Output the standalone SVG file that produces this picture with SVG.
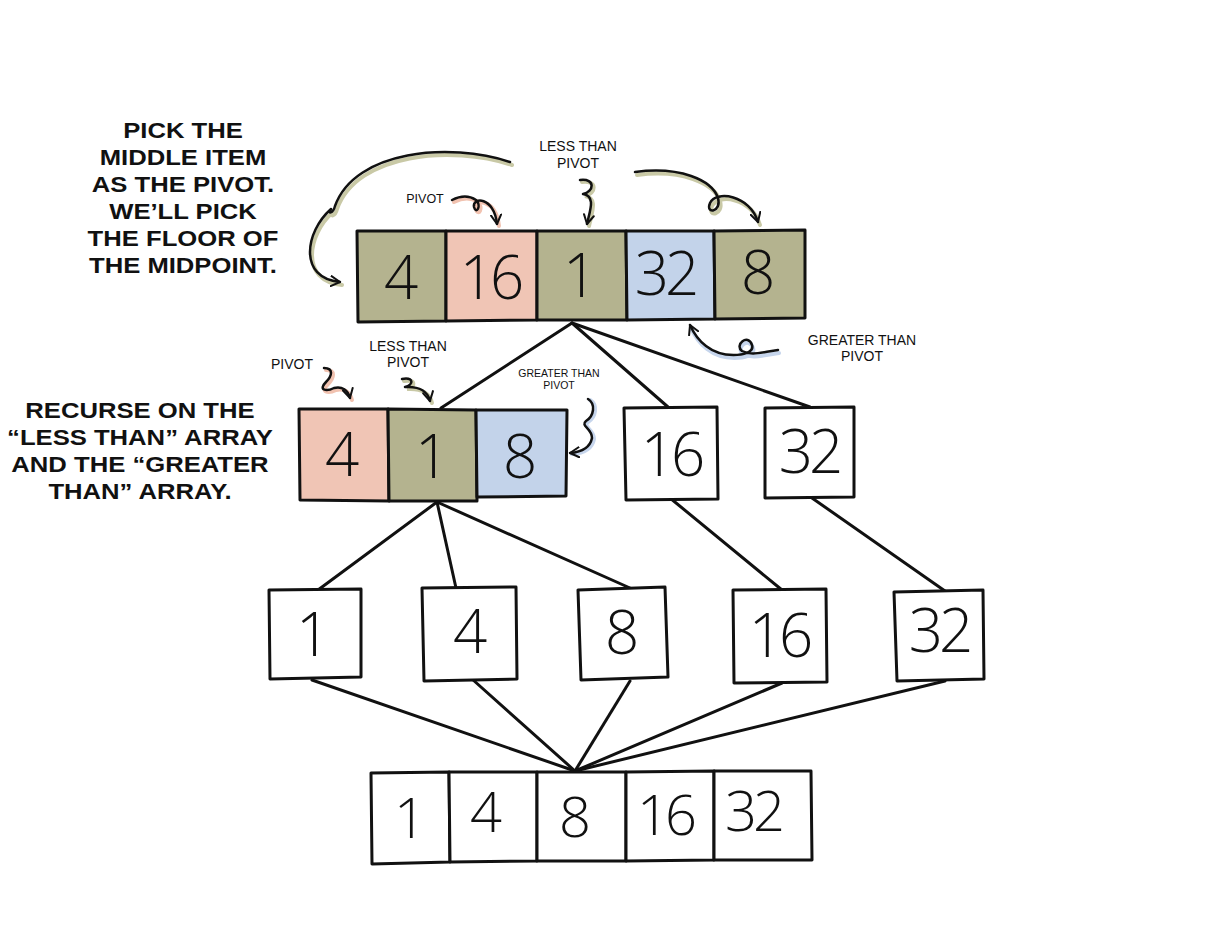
<svg xmlns="http://www.w3.org/2000/svg" width="1232" height="934" viewBox="0 0 1232 934">
<style>
.box{stroke:#111;stroke-width:3;stroke-linejoin:round}
.ol{fill:#b4b38f}.pk{fill:#f0c5b5}.bl{fill:#c3d3ea}.wh{fill:#fff}
.dg{font-family:"Open Sans","Liberation Sans",sans-serif;font-weight:300;font-size:60px;fill:#111;text-anchor:middle}
.two{letter-spacing:-4px}
.big{font-family:"Liberation Sans",sans-serif;font-weight:bold;font-size:22.5px;fill:#111;text-anchor:middle}
.sm{font-family:"Liberation Sans",sans-serif;font-size:14px;fill:#111;text-anchor:middle}
.xs{font-family:"Liberation Sans",sans-serif;font-size:10.5px;fill:#111;text-anchor:middle}
.ln{fill:none;stroke:#111;stroke-width:3;stroke-linecap:round}
.ar{fill:none;stroke:#111;stroke-width:2.5;stroke-linecap:round;stroke-linejoin:round}
.hg{fill:none;stroke:#c9c9a6;stroke-width:4;stroke-linecap:round}
.hp{fill:none;stroke:#f1c2b0;stroke-width:4;stroke-linecap:round}
.hb{fill:none;stroke:#c6d5ec;stroke-width:4;stroke-linecap:round}
</style>
<defs>
<marker id="ah" viewBox="0 0 12 12" refX="10" refY="6" markerWidth="12" markerHeight="12" markerUnits="userSpaceOnUse" orient="auto">
<path d="M1,1 L10,6 L1,11" fill="none" stroke="#111" stroke-width="2" stroke-linecap="round" stroke-linejoin="round"/>
</marker>
</defs>
<rect width="1232" height="934" fill="#fff"/>

<!-- texts -->
<g id="note-pick" transform="translate(183,0) scale(1.14,1) translate(-183,0)">
<text class="big" x="183" y="138">PICK THE</text>
<text class="big" x="183" y="165">MIDDLE ITEM</text>
<text class="big" x="183" y="192">AS THE PIVOT.</text>
<text class="big" x="183" y="219">WE’LL PICK</text>
<text class="big" x="183" y="246">THE FLOOR OF</text>
<text class="big" x="183" y="273">THE MIDPOINT.</text>
</g>
<g id="note-recurse" transform="translate(140,0) scale(1.14,1) translate(-140,0)">
<text class="big" x="140" y="418">RECURSE ON THE</text>
<text class="big" x="140" y="445">“LESS THAN” ARRAY</text>
<text class="big" x="140" y="472">AND THE “GREATER</text>
<text class="big" x="140" y="499">THAN” ARRAY.</text>
</g>

<!-- connectors -->
<g id="connectors">
<path class="ln" d="M572 323 L441 408"/>
<path class="ln" d="M572 323 L668 407"/>
<path class="ln" d="M572 323 L810 407"/>
<path class="ln" d="M437 502 L318 590"/>
<path class="ln" d="M437 502 L456 588"/>
<path class="ln" d="M437 502 L630 588"/>
<path class="ln" d="M670 498 L782 590"/>
<path class="ln" d="M812 498 L945 591"/>
<path class="ln" d="M312 680 L575 771"/>
<path class="ln" d="M472 679 L575 771"/>
<path class="ln" d="M630 681 L575 771"/>
<path class="ln" d="M782 683 L575 771"/>
<path class="ln" d="M945 681 L575 771"/>
</g>

<!-- annotation arrows -->
<g id="annotations">
<path class="hg" transform="translate(2,3)" d="M510 162 C 450 142, 355 150, 335 206 C 333 214, 327 214, 331 209 C 305 232, 298 278, 340 282"/>
<path class="ar" marker-end="url(#ah)" d="M510 162 C 450 142, 355 150, 335 206 C 333 214, 327 214, 331 209 C 305 232, 298 278, 340 282"/>
<path class="hg" transform="translate(2,3)" d="M635 172 C 680 166, 712 180, 718 198 C 722 212, 705 215, 710 203 C 716 190, 750 195, 758 222"/>
<path class="ar" marker-end="url(#ah)" d="M635 172 C 680 166, 712 180, 718 198 C 722 212, 705 215, 710 203 C 716 190, 750 195, 758 222"/>

<text class="sm" x="425" y="203" style="font-size:12.5px">PIVOT</text>
<path class="hp" transform="translate(2,2)" d="M452 200 C 462 195, 470 196, 476 200 C 482 206, 476 215, 474 207 C 472 197, 494 196, 497 224"/>
<path class="ar" marker-end="url(#ah)" d="M452 200 C 462 195, 470 196, 476 200 C 482 206, 476 215, 474 207 C 472 197, 494 196, 497 224"/>

<text class="sm" x="578" y="151">LESS THAN</text>
<text class="sm" x="578" y="168">PIVOT</text>
<path class="hg" transform="translate(2,2)" d="M580 180 C 596 178, 594 192, 583 194 C 596 196, 590 210, 587 224"/>
<path class="ar" marker-end="url(#ah)" d="M580 180 C 596 178, 594 192, 583 194 C 596 196, 590 210, 587 224"/>

<text class="sm" x="862" y="345">GREATER THAN</text>
<text class="sm" x="862" y="361">PIVOT</text>
<path class="hb" transform="translate(1,3)" d="M778 350 C 762 352, 752 356, 742 351 C 734 345, 748 333, 752 345 C 756 356, 724 360, 706 346 C 698 340, 694 334, 690 325"/>
<path class="ar" marker-end="url(#ah)" d="M778 350 C 762 352, 752 356, 742 351 C 734 345, 748 333, 752 345 C 756 356, 724 360, 706 346 C 698 340, 694 334, 690 325"/>

<text class="sm" x="292" y="369">PIVOT</text>
<path class="hp" transform="translate(2,2)" d="M324 368 C 334 368, 332 376, 326 382 C 318 390, 326 392, 334 388 C 342 386, 348 390, 350 398"/>
<path class="ar" marker-end="url(#ah)" d="M324 368 C 334 368, 332 376, 326 382 C 318 390, 326 392, 334 388 C 342 386, 348 390, 350 398"/>

<text class="sm" x="408" y="351">LESS THAN</text>
<text class="sm" x="408" y="367">PIVOT</text>
<path class="hg" transform="translate(2,2)" d="M402 379 C 414 377, 414 385, 405 387 C 420 386, 428 392, 430 401"/>
<path class="ar" marker-end="url(#ah)" d="M402 379 C 414 377, 414 385, 405 387 C 420 386, 428 392, 430 401"/>

<text class="xs" x="559" y="377">GREATER THAN</text>
<text class="xs" x="559" y="389">PIVOT</text>
<path class="hb" transform="translate(2,1)" d="M588 399 C 596 404, 594 416, 586 421 C 580 426, 592 428, 592 438 C 590 448, 582 452, 570 453"/>
<path class="ar" marker-end="url(#ah)" d="M588 399 C 596 404, 594 416, 586 421 C 580 426, 592 428, 592 438 C 590 448, 582 452, 570 453"/>
</g>

<!-- level 0 array -->
<g id="array-top">
<path class="box ol" d="M357 231 L446 231 L446 321 L358 322 Z"/>
<path class="box pk" d="M446 231 L537 231 L537 320 L446 321 Z"/>
<path class="box ol" d="M537 231 L626 231 L627 320 L537 320 Z"/>
<path class="box bl" d="M626 231 L714 231 L715 319 L627 320 Z"/>
<path class="box ol" d="M714 231 L805 230 L805 318 L715 319 Z"/>
<text class="dg" x="401" y="299">4</text>
<text class="dg two" x="490" y="299">16</text>
<text class="dg" x="580" y="297">1</text>
<text class="dg two" x="665" y="295">32</text>
<text class="dg" x="758" y="294">8</text>
</g>

<!-- level 1 -->
<g id="array-mid">
<path class="box pk" d="M299 409 L388 409 L389 501 L300 500 Z"/>
<path class="box ol" d="M388 409 L476 410 L477 501 L389 501 Z"/>
<path class="box bl" d="M476 410 L567 410 L566 496 L477 497 Z"/>
<text class="dg" x="342" y="476">4</text>
<text class="dg" x="432" y="478">1</text>
<text class="dg" x="520" y="478">8</text>
</g>
<g id="node-16a"><path class="box wh" d="M624 408 L717 407 L718 499 L626 500 Z"/><text class="dg two" x="671" y="476">16</text></g>
<g id="node-32a"><path class="box wh" d="M765 408 L854 407 L854 497 L765 498 Z"/><text class="dg two" x="809" y="473">32</text></g>

<!-- level 2 -->
<g id="node-1"><path class="box wh" d="M269 590 L361 589 L361 677 L270 679 Z"/><text class="dg" x="313" y="656">1</text></g>
<g id="node-4"><path class="box wh" d="M422 588 L516 587 L517 679 L424 681 Z"/><text class="dg" x="470" y="653">4</text></g>
<g id="node-8"><path class="box wh" d="M578 590 L665 587 L668 677 L581 680 Z"/><text class="dg" x="622" y="654">8</text></g>
<g id="node-16b"><path class="box wh" d="M733 590 L826 589 L827 682 L734 683 Z"/><text class="dg two" x="779" y="657">16</text></g>
<g id="node-32b"><path class="box wh" d="M894 592 L983 590 L984 679 L897 681 Z"/><text class="dg two" x="939" y="652">32</text></g>

<!-- level 3 -->
<g id="array-sorted">
<path class="box wh" d="M371 773 L449 772 L450 862 L372 864 Z"/>
<path class="box wh" d="M449 772 L537 772 L537 861 L450 862 Z"/>
<path class="box wh" d="M537 772 L626 772 L626 861 L537 861 Z"/>
<path class="box wh" d="M626 772 L714 771 L714 860 L626 861 Z"/>
<path class="box wh" d="M714 771 L811 771 L812 860 L714 860 Z"/>
<text class="dg" x="410" y="838" style="font-size:56px">1</text>
<text class="dg" x="486" y="832" style="font-size:56px">4</text>
<text class="dg" x="575" y="837" style="font-size:56px">8</text>
<text class="dg two" x="665" y="835" style="font-size:56px">16</text>
<text class="dg two" x="753" y="831" style="font-size:56px">32</text>
</g>
</svg>
